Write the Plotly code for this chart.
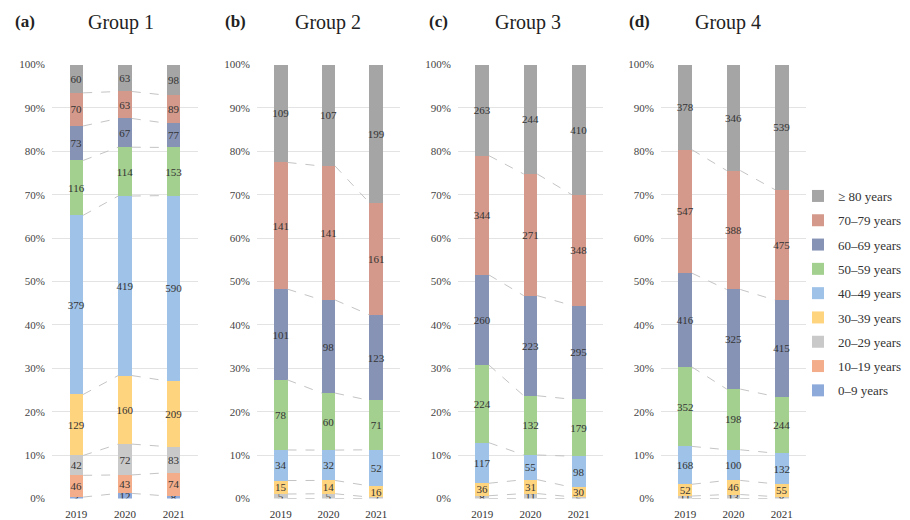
import numpy as np
import plotly.graph_objects as go

years = ["2019", "2020", "2021"]
age_groups = ["0–9 years", "10–19 years", "20–29 years", "30–39 years", "40–49 years",
              "50–59 years", "60–69 years", "70–79 years", "≥ 80 years"]
age_colors = ["#8eaadb", "#f4ad8a", "#c9c9c9", "#ffd47f", "#9fc3e8",
              "#a3cf8f", "#8793b5", "#d4998a", "#a5a5a5"]

group_names = ["Group 1", "Group 2", "Group 3", "Group 4"]
panel_tags = ["(a)", "(b)", "(c)", "(d)"]

# counts per age group (rows, youngest first) for 2019, 2020, 2021
group1 = [[3, 12, 8], [46, 43, 74], [42, 72, 83], [129, 160, 209], [379, 419, 590],
          [116, 114, 153], [73, 67, 77], [70, 63, 89], [60, 63, 98]]
group2 = [[0, 0, 0], [0, 0, 0], [5, 5, 2], [15, 14, 16], [34, 32, 52],
          [78, 60, 71], [101, 98, 123], [141, 141, 161], [109, 107, 199]]
group3 = [[0, 0, 0], [0, 0, 0], [8, 11, 5], [36, 31, 30], [117, 55, 98],
          [224, 132, 179], [260, 223, 295], [344, 271, 348], [263, 244, 410]]
group4 = [[0, 0, 0], [0, 0, 0], [11, 13, 8], [52, 46, 55], [168, 100, 132],
          [352, 198, 244], [416, 325, 415], [547, 388, 475], [378, 346, 539]]
groups = [group1, group2, group3, group4]

pct_ticks = list(range(0, 101, 10))
pct_labels = [f"{v}%" for v in pct_ticks]

W, H = 910, 520
FONT = "Liberation Serif"
BAR_W = 0.28

# panel placement in pixels (plot area left/right), shared vertical extent
panel_px = [(52, 198), (257, 400), (458, 603), (661, 806)]
y_top_px, y_bot_px = 64.5, 498.5
title_centers = [121, 328, 528, 728]
tag_left = [13, 223, 427, 627]

fig = go.Figure()
xpos = list(range(len(years)))

for gi, data in enumerate(groups):
    suffix = "" if gi == 0 else str(gi + 1)
    xa, ya = "x" + suffix, "y" + suffix
    counts = np.array(data, dtype=float)

    # stacked bars, normalised to percent by the layout
    for ai, name in enumerate(age_groups):
        vals = counts[ai]
        fig.add_trace(go.Bar(
            x=xpos, y=vals, name=name, xaxis=xa, yaxis=ya,
            width=BAR_W, marker=dict(color=age_colors[ai], line=dict(width=0)),
            text=[str(int(v)) if v > 0 else "" for v in vals],
            textposition="inside", insidetextanchor="middle", textangle=0,
            constraintext="none",
            textfont=dict(family=FONT, size=11, color="#333333"),
            legendgroup=name, legendrank=100 - ai,
            showlegend=(gi == 0), hoverinfo="skip",
        ))

    # dashed series lines joining segment boundaries between neighbouring bars
    share = counts / counts.sum(axis=0) * 100
    cum = np.cumsum(share, axis=0)
    lx, ly = [], []
    for ai in range(len(age_groups) - 1):
        for yi in range(len(years) - 1):
            lx += [yi + BAR_W / 2, yi + 1 - BAR_W / 2, None]
            ly += [cum[ai, yi], cum[ai, yi + 1], None]
    fig.add_trace(go.Scatter(
        x=lx, y=ly, mode="lines", xaxis=xa, yaxis=ya,
        line=dict(color="#c4c4c4", width=1, dash="dash"),
        showlegend=False, hoverinfo="skip",
    ))

    x0, x1 = panel_px[gi]
    fig.layout["xaxis" + suffix] = dict(
        domain=[x0 / W, x1 / W], anchor=ya, range=[-0.5, 2.5],
        tickmode="array", tickvals=xpos, ticktext=years,
        showgrid=False, zeroline=False, automargin=False,
        showline=False, ticks="", ticklabelstandoff=7, fixedrange=True,
        tickfont=dict(family=FONT, size=11, color="#333333"),
    )
    fig.layout["yaxis" + suffix] = dict(
        domain=[1 - y_bot_px / H, 1 - y_top_px / H], anchor=xa,
        range=[0, 100], tickmode="array", tickvals=pct_ticks, ticktext=pct_labels,
        showgrid=True, gridcolor="#e3e3e3", gridwidth=1, zeroline=False,
        automargin=False, showline=False, ticks="", ticklabelstandoff=6,
        fixedrange=True,
        tickfont=dict(family=FONT, size=11, color="#444444"),
    )

    fig.add_annotation(
        text=group_names[gi], xref="paper", yref="paper",
        x=title_centers[gi] / W, y=1 - 23 / H, xanchor="center", yanchor="middle",
        showarrow=False, font=dict(family=FONT, size=20, color="#222222"),
    )
    fig.add_annotation(
        text="<b>" + panel_tags[gi] + "</b>", xref="paper", yref="paper",
        x=tag_left[gi] / W, y=1 - 22 / H, xanchor="left", yanchor="middle",
        showarrow=False, font=dict(family=FONT, size=17, color="#222222"),
    )

fig.update_layout(
    width=W, height=H, margin=dict(l=0, r=0, t=0, b=0),
    barmode="stack", barnorm="percent",
    plot_bgcolor="white", paper_bgcolor="white",
    font=dict(family=FONT, color="#333333"),
    legend=dict(
        x=798 / W, y=1 - 181 / H, xanchor="left", yanchor="top",
        traceorder="grouped", tracegroupgap=4.4,
        font=dict(family=FONT, size=13, color="#333333"),
        bgcolor="rgba(0,0,0,0)",
    ),
)

fig.write_html("out.html")
